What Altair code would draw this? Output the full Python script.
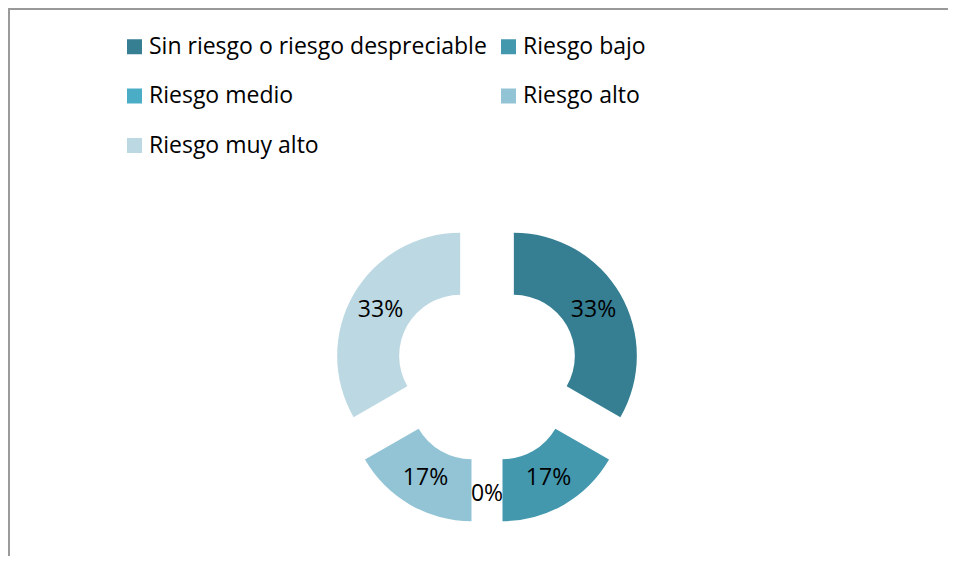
import altair as alt
import pandas as pd

categories = [
    "Sin riesgo o riesgo despreciable",
    "Riesgo bajo",
    "Riesgo medio",
    "Riesgo alto",
    "Riesgo muy alto",
]
shares = [33.33, 16.67, 0.0, 16.67, 33.33]
colors = ["#367F93", "#4398AE", "#4BACC6", "#93C4D5", "#BCD8E3"]

df = pd.DataFrame({"cat": categories, "share": shares, "idx": list(range(len(categories)))})

W, H = 940, 548
CX, CY = 479, 363.3
EXPLODE = 31
R_OUT, R_IN = 123, 61
R_LAB = 92

base = (
    alt.Chart(df)
    .transform_window(cum="sum(share)", sort=[alt.SortField("idx")], frame=[None, 0])
    .transform_joinaggregate(total="sum(share)")
    .transform_calculate(
        t0="2*PI*(datum.cum - datum.share)/datum.total",
        t1="2*PI*datum.cum/datum.total",
    )
    .transform_calculate(mid="(datum.t0 + datum.t1)/2")
    .transform_calculate(
        ox=f"{CX} + {EXPLODE}*sin(datum.mid)",
        oy=f"{CY} - {EXPLODE}*cos(datum.mid)",
        lx=f"{CX} + ({EXPLODE} + {R_LAB})*sin(datum.mid)",
        ly=f"{CY} - ({EXPLODE} + {R_LAB})*cos(datum.mid)",
        label="format(datum.share, '.0f') + '%'",
    )
)

arcs = base.mark_arc(radius=R_OUT, radius2=R_IN, stroke=None).encode(
    theta=alt.Theta("t0:Q", scale=None, stack=None),
    theta2="t1:Q",
    x=alt.X("ox:Q", scale=None),
    y=alt.Y("oy:Q", scale=None),
    color=alt.Color(
        "cat:N",
        scale=alt.Scale(domain=categories, range=colors),
        sort=categories,
        legend=alt.Legend(
            orient="none",
            direction="horizontal",
            legendX=115,
            legendY=27,
            columns=2,
            title=None,
            symbolType="square",
            symbolSize=225,
            symbolStrokeWidth=0,
            symbolOpacity=1,
            labelFont="Open Sans",
            labelFontSize=23,
            labelColor="black",
            labelLimit=600,
            labelOffset=3,
            rowPadding=25.5,
            columnPadding=10,
            padding=0,
        ),
    ),
)

labels = base.mark_text(font="Open Sans", fontSize=23, color="black", align="center", baseline="middle").encode(
    x=alt.X("lx:Q", scale=None),
    y=alt.Y("ly:Q", scale=None),
    text="label:N",
)

frame_df = pd.DataFrame({"a": [0]})
top_line = alt.Chart(frame_df).mark_rule(color="#999999", strokeWidth=2).encode(
    x=alt.value(0), x2=alt.value(W), y=alt.value(1)
)
left_line = alt.Chart(frame_df).mark_rule(color="#9A9A9A", strokeWidth=2).encode(
    x=alt.value(1), y=alt.value(0), y2=alt.value(H)
)

chart = (
    alt.layer(top_line, left_line, arcs, labels)
    .properties(width=W, height=H, padding=0, autosize=alt.AutoSizeParams(type="none"))
    .configure_view(strokeWidth=0, stroke="transparent")
)

chart.save("out.html", embed_options={"renderer": "svg", "actions": False})
